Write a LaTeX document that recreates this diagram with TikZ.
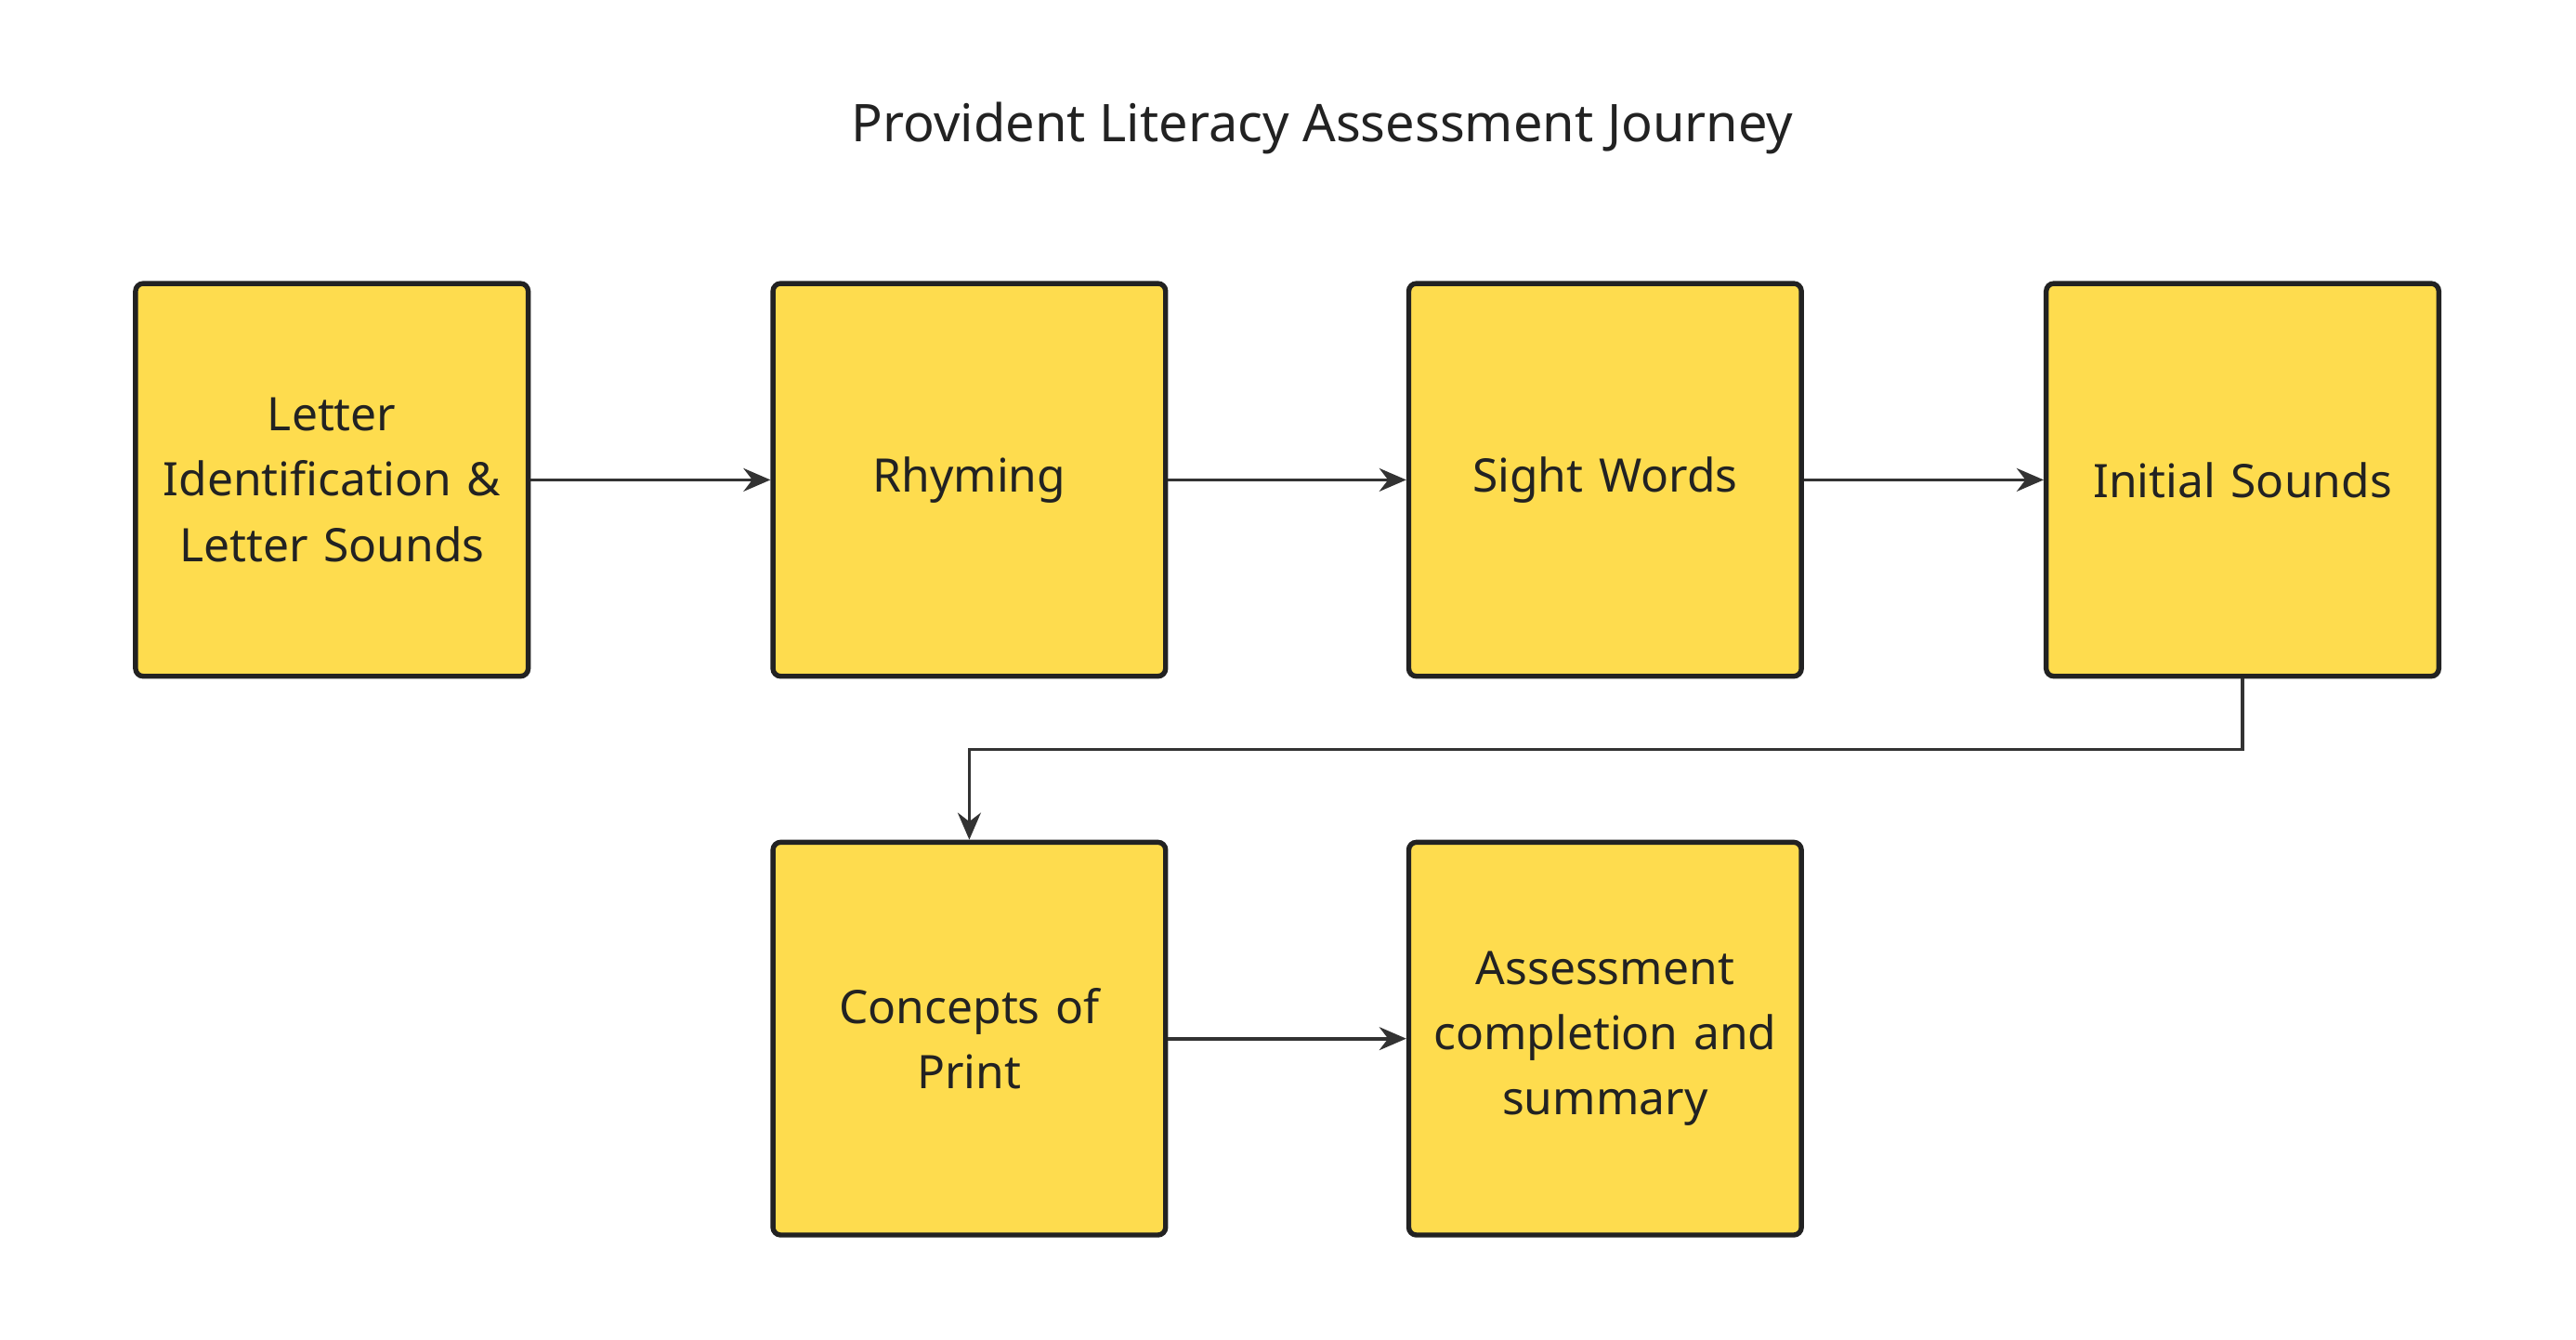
\documentclass[tikz,border=0pt]{standalone}
\usepackage{fontspec}
\setmainfont{Noto Sans}
\usetikzlibrary{arrows.meta}
\definecolor{stepfill}{HTML}{FEDC4E}
\definecolor{stepline}{HTML}{222222}
\definecolor{flowline}{HTML}{333333}
\begin{document}
\begin{tikzpicture}[
        stage/.style={rectangle, draw=stepline, fill=stepfill, line width=2.6pt, rounded corners=4pt,
            minimum width=7.17cm, minimum height=7.17cm, text width=6.9cm, align=center,
            font=\fontsize{24}{34}\selectfont\bfseries, text=stepline},
        flow/.style={-{Stealth[length=14pt,width=12pt]}, line width=1.8pt, draw=flowline},
    ]

        \useasboundingbox (0,0) rectangle (47.04,-24.46);

        % title
        \node[font=\fontsize{27}{32}\selectfont\bfseries, text=stepline] (title) at (24.15,-2.34) {Provident Literacy Assessment Journey};

        % top row
        \node[stage] (letters) at (6.06,-8.76) {Letter\\Identification \&\\Letter Sounds};
        \node[stage] (rhyming) at (17.7,-8.76) {Rhyming};
        \node[stage] (sight) at (29.31,-8.76) {Sight Words};
        \node[stage] (initial) at (40.95,-8.76) {Initial Sounds};

        % bottom row
        \node[stage] (concepts) at (17.7,-18.96) {Concepts of\\Print};
        \node[stage] (summary) at (29.31,-18.96) {Assessment\\completion and\\summary};

        % connectors
        \draw[flow] (letters) -- (rhyming);
        \draw[flow] (rhyming) -- (sight);
        \draw[flow] (sight) -- (initial);
        \draw[flow] (initial.south) |- (17.7,-13.68) -- (concepts.north);
        \draw[flow] (concepts) -- (summary);

    \end{tikzpicture}
\end{document}
